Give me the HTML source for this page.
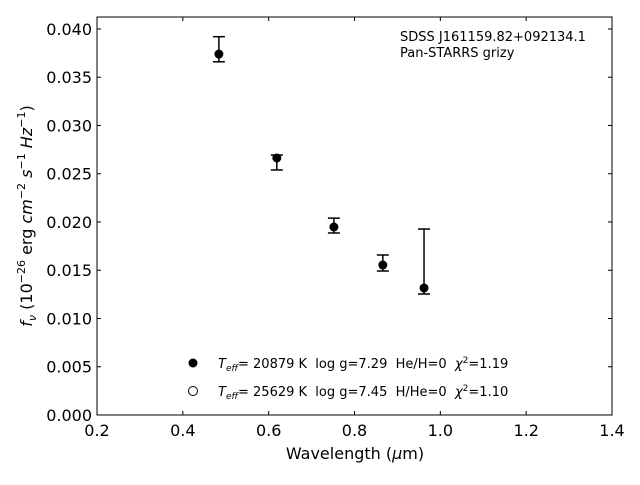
<!DOCTYPE html>
<html><head><meta charset="utf-8"><style>
body{margin:0;background:#fff}
svg{font-family:"DejaVu Sans","Liberation Sans",sans-serif}
</style></head><body>
<svg id="c" width="640" height="480" xmlns="http://www.w3.org/2000/svg"></svg>
<script>
const wavelengths=[0.484,0.619,0.752,0.866,0.962];
const fluxValues=[0.0374,0.02663,0.01948,0.01554,0.01316];
const errHigh=[0.0392,0.02694,0.0204,0.01658,0.01927];
const errLow=[0.0366,0.02539,0.01886,0.01492,0.01254];
const xTicks=[0.2,0.4,0.6,0.8,1.0,1.2,1.4];
const yTicks=[0,0.005,0.010,0.015,0.020,0.025,0.030,0.035,0.040];
const L=97,R=612,T=17,B=415,x0=0.2,x1=1.4,y0=0,y1=0.04124;
const sx=v=>L+(v-x0)/(x1-x0)*(R-L);
const sy=v=>B-(v-y0)/(y1-y0)*(B-T);
const s=document.getElementById('c');const NS='http://www.w3.org/2000/svg';
function el(t,a,txt){const e=document.createElementNS(NS,t);for(const k in a)e.setAttribute(k,a[k]);if(txt!=null)e.innerHTML=txt;s.appendChild(e);return e;}
let f=el('rect',{x:L,y:T,width:R-L,height:B-T,fill:'none',stroke:'#000','stroke-width':1});

xTicks.forEach(v=>{const x=sx(v);
 let t=el('line',{x1:x,x2:x,y1:B,y2:B-4,stroke:'#000'});
 el('line',{x1:x,x2:x,y1:T,y2:T+4,stroke:'#000'});
 let l=el('text',{x:x,y:B+21,'text-anchor':'middle','font-size':16},v.toFixed(1));});
yTicks.forEach(v=>{const y=sy(v);
 let t=el('line',{x1:L,x2:L+4,y1:y,y2:y,stroke:'#000'});
 el('line',{x1:R,x2:R-4,y1:y,y2:y,stroke:'#000'});
 let l=el('text',{x:L-5,y:y+6,'text-anchor':'end','font-size':16},v.toFixed(3));});
wavelengths.forEach((w,i)=>{const x=sx(w);
 let e=el('line',{x1:x,x2:x,y1:sy(errHigh[i]),y2:sy(errLow[i]),stroke:'#000','stroke-width':1.5});
 [errHigh[i],errLow[i]].forEach(v=>el('line',{x1:x-6,x2:x+6,y1:sy(v),y2:sy(v),stroke:'#000','stroke-width':1.5}));
 let p=el('circle',{cx:x,cy:sy(fluxValues[i]),r:4.5,fill:'#000'});});
let xt=el('text',{x:355,y:459,'text-anchor':'middle','font-size':16},'Wavelength (<tspan font-style="italic">μ</tspan>m)');
let yt=el('text',{transform:'translate(32,216) rotate(-90)','text-anchor':'middle','font-size':16},'<tspan font-style="italic">f<tspan font-size="11" dy="4">ν</tspan></tspan><tspan dy="-4"> (10</tspan><tspan font-size="11" dy="-7">−26</tspan><tspan dy="7"> erg </tspan><tspan font-style="italic">cm</tspan><tspan font-size="11" dy="-7">−2</tspan><tspan dy="7"> </tspan><tspan font-style="italic">s</tspan><tspan font-size="11" dy="-7">−1</tspan><tspan dy="7"> </tspan><tspan font-style="italic">Hz</tspan><tspan font-size="11" dy="-7">−1</tspan><tspan dy="7">)</tspan>');

let a1=el('text',{x:400,y:41,'font-size':13},'SDSS J161159.82+092134.1');
let a2=el('text',{x:400,y:57,'font-size':13},'Pan-STARRS grizy');
let m1=el('circle',{cx:193,cy:363,r:4.5,fill:'#000'});
let m2=el('circle',{cx:193,cy:391,r:4.5,fill:'#fff',stroke:'#000'});
let t1=el('text',{x:218,y:368,'font-size':13},'<tspan font-style="italic">T<tspan font-size="9" dy="3">eff</tspan></tspan><tspan dy="-3">= 20879 K  log g=7.29  He/H=0  </tspan><tspan font-style="italic">χ</tspan><tspan font-size="9" dy="-5">2</tspan><tspan dy="5">=1.19</tspan>');
t1.setAttribute('xml:space','preserve');t1.style.whiteSpace='pre';
let t2=el('text',{x:218,y:396,'font-size':13},'<tspan font-style="italic">T<tspan font-size="9" dy="3">eff</tspan></tspan><tspan dy="-3">= 25629 K  log g=7.45  H/He=0  </tspan><tspan font-style="italic">χ</tspan><tspan font-size="9" dy="-5">2</tspan><tspan dy="5">=1.10</tspan>');
t2.style.whiteSpace='pre';
</script>
</body></html>
